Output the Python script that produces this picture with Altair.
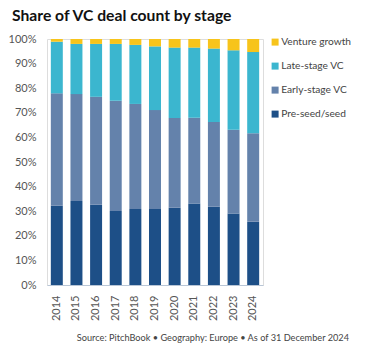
import altair as alt
import pandas as pd

years = ["2014", "2015", "2016", "2017", "2018", "2019", "2020", "2021", "2022", "2023", "2024"]
preseed = [32.2, 34.1, 32.6, 30.1, 30.9, 30.9, 31.4, 33.1, 31.8, 29.1, 25.7]
early = [45.7, 43.5, 43.9, 44.8, 42.7, 40.2, 36.5, 34.9, 34.5, 34.0, 36.0]
late = [21.0, 20.4, 21.5, 23.1, 24.0, 25.9, 28.6, 28.5, 29.8, 32.3, 33.0]
growth = [1.1, 2.0, 2.0, 2.0, 2.4, 3.0, 3.5, 3.5, 3.9, 4.6, 5.3]

stages = ["Pre-seed/seed", "Early-stage VC", "Late-stage VC", "Venture growth"]
legend_order = ["Venture growth", "Late-stage VC", "Early-stage VC", "Pre-seed/seed"]
legend_colors = ["#F7C41B", "#3BB6CF", "#6482AB", "#1D4F87"]

rows = []
for i, y in enumerate(years):
    for k, (name, vals) in enumerate(zip(stages, [preseed, early, late, growth])):
        rows.append({"year": y, "stage": name, "share": vals[i] / 100.0, "ord": k})
df = pd.DataFrame(rows)

FONT = "Lato"

bars = alt.Chart(df).mark_bar().encode(
    x=alt.X("year:N", sort=years,
            scale=alt.Scale(paddingInner=0.39, paddingOuter=0.195),
            axis=alt.Axis(title=None, labelAngle=-90, ticks=False, labelPadding=10,
                          domainColor="#B9C6D6", labelFontSize=11, labelColor="#555555",
                          labelFont=FONT)),
    y=alt.Y("share:Q", stack="zero",
            scale=alt.Scale(domain=[0, 1], nice=False),
            axis=alt.Axis(title=None, format="%", values=[i / 10 for i in range(11)],
                          ticks=False, domain=False, grid=False, labelPadding=11,
                          labelFontSize=11, labelColor="#555555", labelFont=FONT)),
    color=alt.Color("stage:N",
                    scale=alt.Scale(domain=legend_order, range=legend_colors),
                    legend=alt.Legend(title=None, orient="none", legendX=223, legendY=-2,
                                      symbolType="square", symbolSize=49,
                                      symbolStrokeWidth=0, labelFontSize=10.2,
                                      labelColor="#444444", labelFont=FONT,
                                      rowPadding=13, labelOffset=1)),
    order=alt.Order("ord:Q", sort="ascending"),
)

title_df = pd.DataFrame({"t": ["Share of VC deal count by stage"]})
title = alt.Chart(title_df).mark_text(
    align="left", baseline="alphabetic", fontSize=15.7, fontWeight="bold",
    font=FONT, color="#111111"
).encode(text="t:N", x=alt.value(-35), y=alt.value(-18))

foot_df = pd.DataFrame({"t": ["Source: PitchBook  \u2022  Geography: Europe  \u2022  As of 31 December 2024"]})
footer = alt.Chart(foot_df).mark_text(
    align="right", baseline="alphabetic", fontSize=9.2, font=FONT, color="#444444"
).encode(text="t:N", x=alt.value(302), y=alt.value(341 - 39))

chart = alt.layer(bars, title, footer).properties(
    width=216, height=246,
    autosize=alt.AutoSizeParams(type="none"),
    padding={"left": 47, "top": 39, "right": 104, "bottom": 69},
).configure_view(stroke=None).configure(background="white")

chart.save("out.html", embed_options={"renderer": "svg", "actions": False})
